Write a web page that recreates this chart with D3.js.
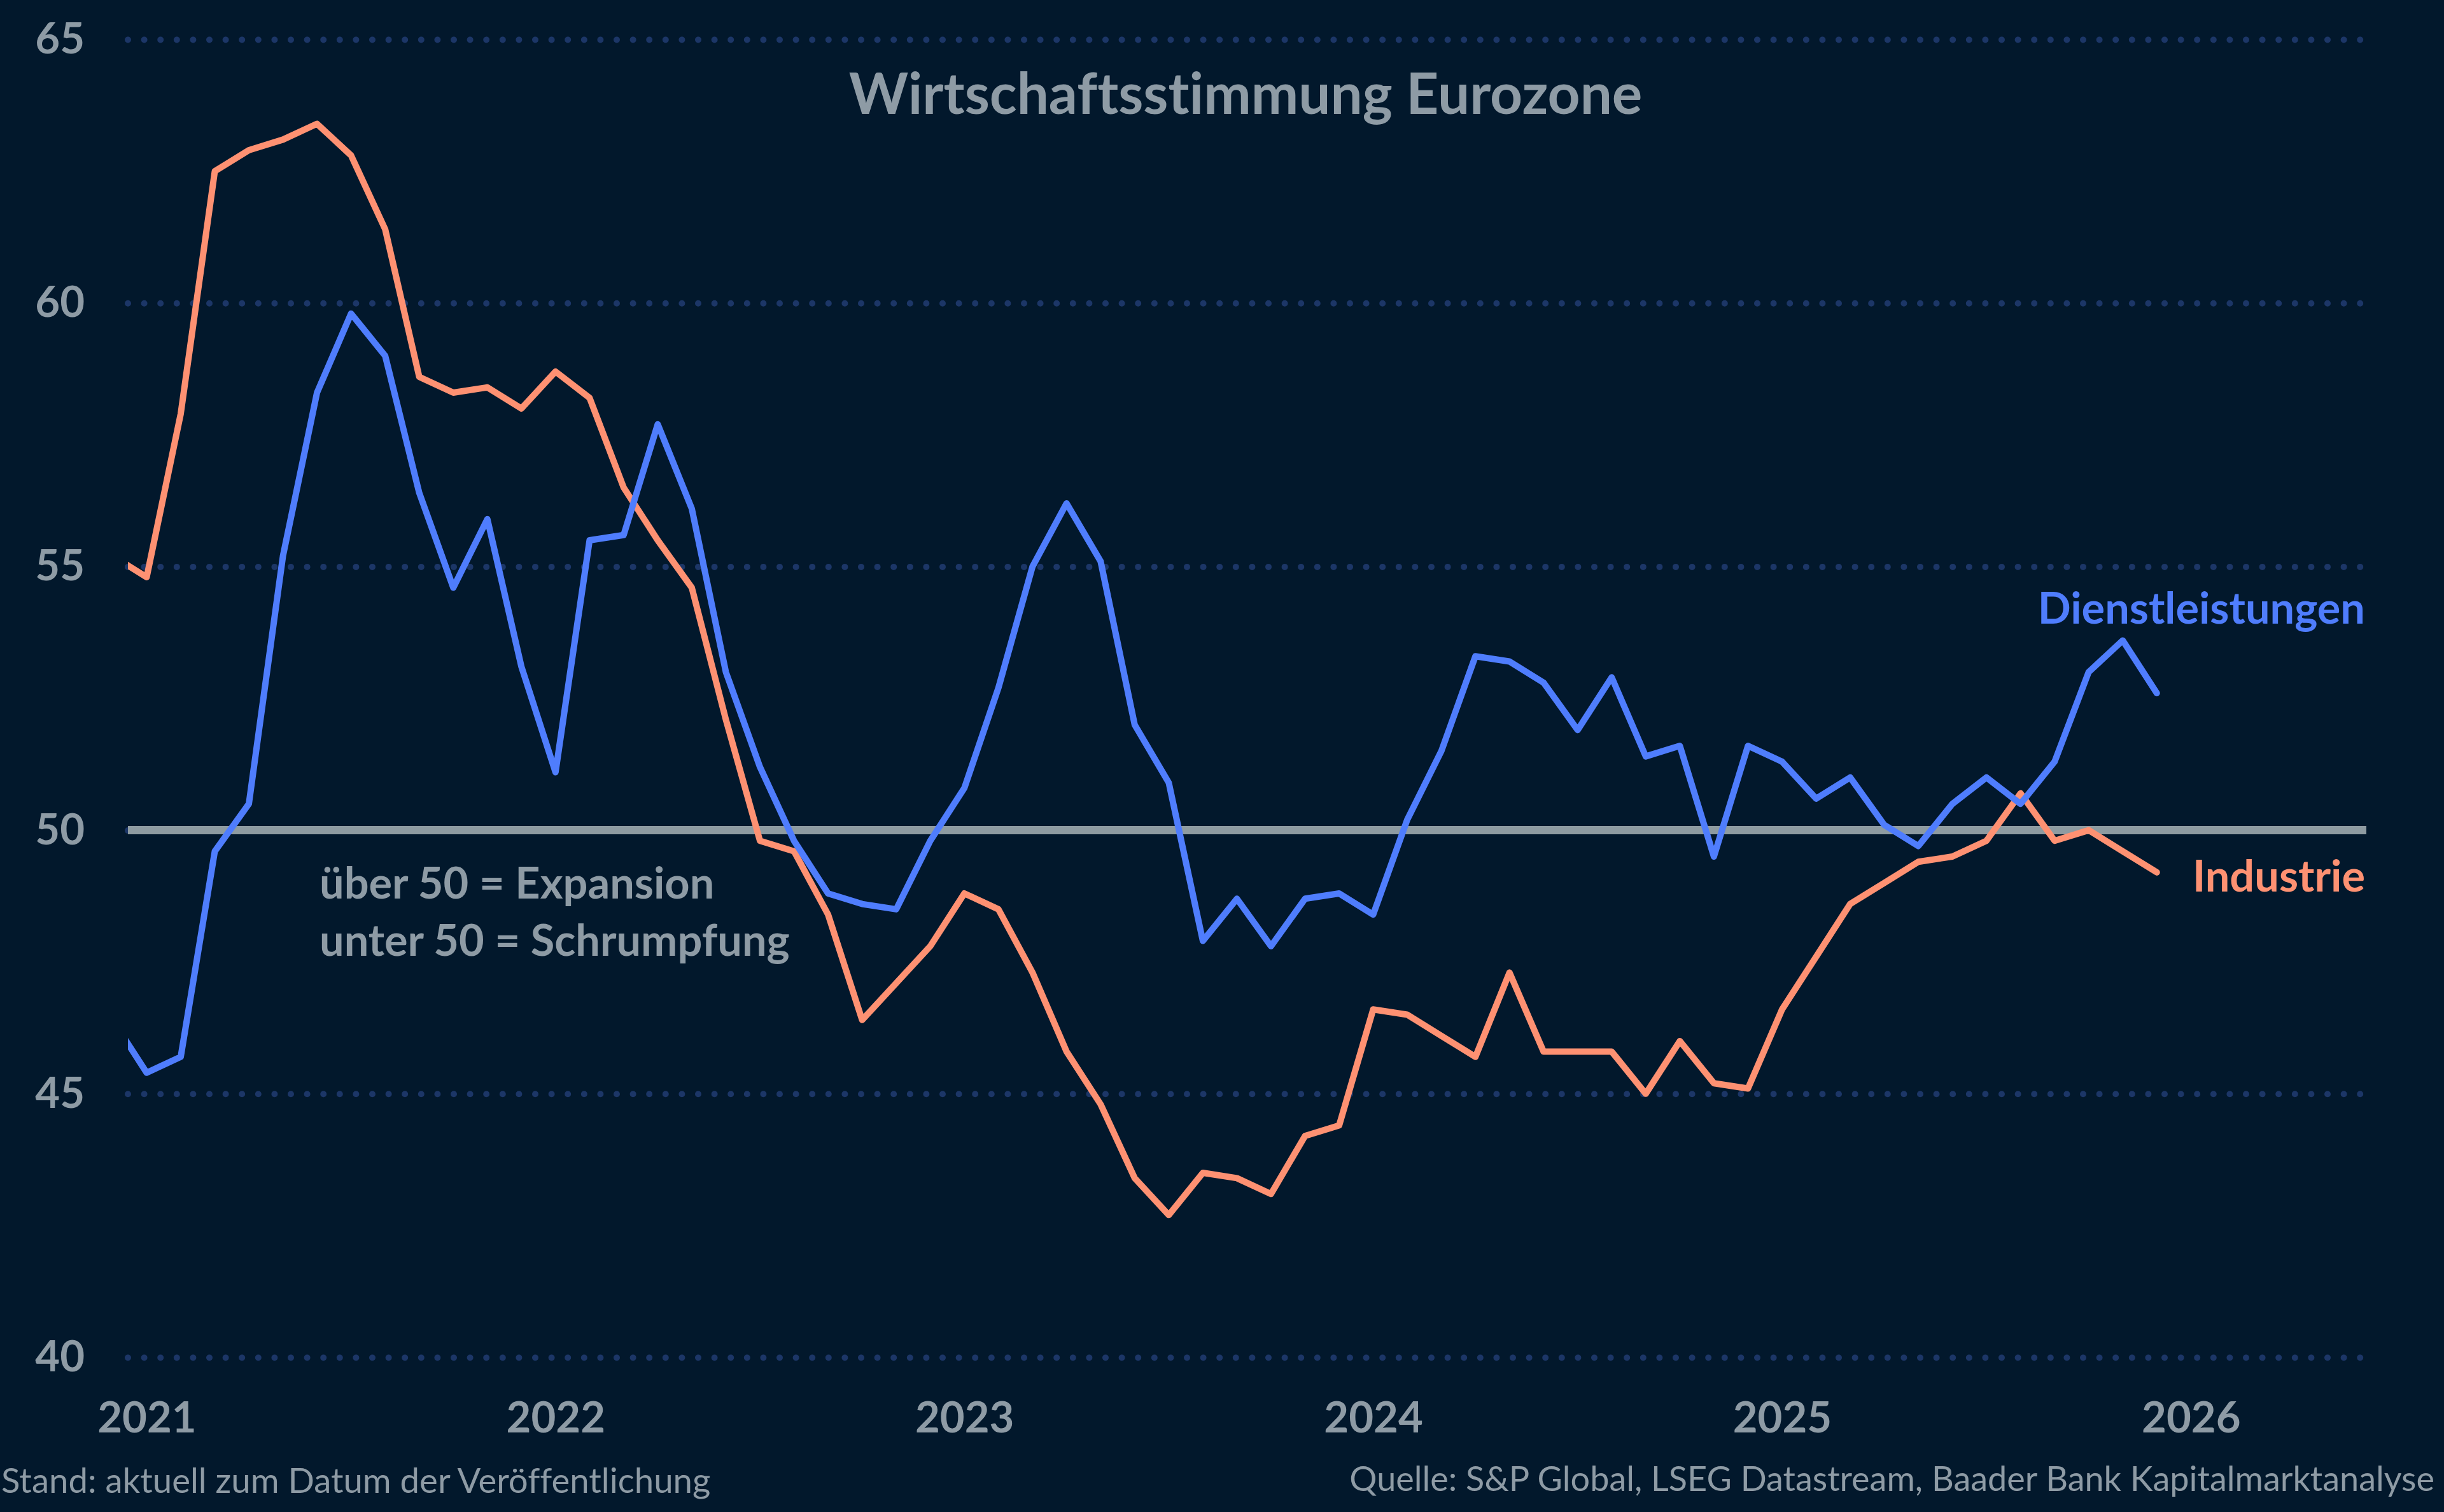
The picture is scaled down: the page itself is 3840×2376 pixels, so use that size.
<!DOCTYPE html>
<html>
<head>
<meta charset="utf-8">
<script src="https://cdn.jsdelivr.net/npm/d3@7"></script>
<style>
  html, body { margin: 0; padding: 0; background: #02182c; }
  svg { display: block; font-family: Lato, "Open Sans", sans-serif; font-variant-ligatures: none; }
</style>
</head>
<body>
<svg id="chart"></svg>
<script>
// Monatswerte Dez 2020 bis Dez 2025 (Einkaufsmanagerindizes Eurozone)
const months = [
  "2020-12",
  "2021-01","2021-02","2021-03","2021-04","2021-05","2021-06","2021-07","2021-08","2021-09","2021-10","2021-11","2021-12",
  "2022-01","2022-02","2022-03","2022-04","2022-05","2022-06","2022-07","2022-08","2022-09","2022-10","2022-11","2022-12",
  "2023-01","2023-02","2023-03","2023-04","2023-05","2023-06","2023-07","2023-08","2023-09","2023-10","2023-11","2023-12",
  "2024-01","2024-02","2024-03","2024-04","2024-05","2024-06","2024-07","2024-08","2024-09","2024-10","2024-11","2024-12",
  "2025-01","2025-02","2025-03","2025-04","2025-05","2025-06","2025-07","2025-08","2025-09","2025-10","2025-11","2025-12"
];

const dienstleistungen = [
  46.4,
  45.4, 45.7, 49.6, 50.5, 55.2, 58.3, 59.8, 59.0, 56.4, 54.6, 55.9, 53.1,
  51.1, 55.5, 55.6, 57.7, 56.1, 53.0, 51.2, 49.8, 48.8, 48.6, 48.5, 49.8,
  50.8, 52.7, 55.0, 56.2, 55.1, 52.0, 50.9, 47.9, 48.7, 47.8, 48.7, 48.8,
  48.4, 50.2, 51.5, 53.3, 53.2, 52.8, 51.9, 52.9, 51.4, 51.6, 49.5, 51.6,
  51.3, 50.6, 51.0, 50.1, 49.7, 50.5, 51.0, 50.5, 51.3, 53.0, 53.6, 52.6
];

const industrie = [
  55.2,
  54.8, 57.9, 62.5, 62.9, 63.1, 63.4, 62.8, 61.4, 58.6, 58.3, 58.4, 58.0,
  58.7, 58.2, 56.5, 55.5, 54.6, 52.1, 49.8, 49.6, 48.4, 46.4, 47.1, 47.8,
  48.8, 48.5, 47.3, 45.8, 44.8, 43.4, 42.7, 43.5, 43.4, 43.1, 44.2, 44.4,
  46.6, 46.5, 46.1, 45.7, 47.3, 45.8, 45.8, 45.8, 45.0, 46.0, 45.2, 45.1,
  46.6, 47.6, 48.6, 49.0, 49.4, 49.5, 49.8, 50.7, 49.8, 50.0, 49.6, 49.2
];

const yTicks = [40, 45, 50, 55, 60, 65];
const yearLabels = ["2021", "2022", "2023", "2024", "2025", "2026"];
const yearTickMonths = ["2021-01", "2022-01", "2023-01", "2024-01", "2025-01", "2026-01"];
const schwelle = 50;

const width = 3840, height = 2376;
const plot = {left: 201, right: 3718, top: 62, bottom: 2133};

const textGray = "#8e9ba5";
const blue = "#4f7dfd";
const orange = "#fe9172";

const svg = d3.select("#chart")
    .attr("width", width)
    .attr("height", height)
    .attr("viewBox", [0, 0, width, height]);

svg.append("rect")
    .attr("width", width)
    .attr("height", height)
    .attr("fill", "#02182c");

// month index relative to Dec 2020 (Dec 2020 = 0, Jan 2021 = 1)
const monthIndex = m => {
    const [yy, mm] = m.split("-").map(Number);
    return (yy - 2020) * 12 + (mm - 12);
};

let x = d3.scaleLinear()
    .domain([0.45, 66.15])
    .range([plot.left, plot.right]);

let y = d3.scaleLinear()
    .domain([40, 65])
    .range([plot.bottom, plot.top]);

svg.append("defs").append("clipPath")
    .attr("id", "plot-clip")
    .append("rect")
    .attr("x", plot.left)
    .attr("y", 0)
    .attr("width", plot.right - plot.left)
    .attr("height", height);

// y grid + labels
let yAxis = g => g
    .attr("transform", `translate(${plot.left},0)`)
    .call(d3.axisLeft(y).tickValues(yTicks).tickSize(-(plot.right - plot.left)).tickPadding(68))
    .call(g => g.select(".domain").remove())
    .call(g => g.selectAll(".tick line")
        .attr("stroke", "#1c3667")
        .attr("stroke-width", 10)
        .attr("stroke-linecap", "round")
        .attr("stroke-dasharray", "0 25.6"))
    .call(g => g.selectAll(".tick text")
        .attr("fill", textGray)
        .attr("font-family", "Lato")
        .attr("font-weight", 700)
        .attr("font-size", 67));

svg.append("g").call(yAxis);

// x axis (years)
let xAxis = g => g
    .attr("transform", `translate(0,${plot.bottom})`)
    .call(d3.axisBottom(x)
        .tickValues(yearTickMonths.map(monthIndex))
        .tickFormat((d, i) => yearLabels[i])
        .tickSize(0)
        .tickPadding(70))
    .call(g => g.select(".domain").remove())
    .call(g => g.selectAll(".tick text")
        .attr("fill", textGray)
        .attr("font-family", "Lato")
        .attr("font-weight", 700)
        .attr("font-size", 67));

svg.append("g").call(xAxis);

// 50er Linie
svg.append("line")
    .attr("x1", plot.left)
    .attr("x2", plot.right)
    .attr("y1", y(schwelle))
    .attr("y2", y(schwelle))
    .attr("stroke", "#8e9ba1")
    .attr("stroke-width", 13);

let line = values => d3.line()
    .x((d, i) => x(monthIndex(months[i])))
    .y(d => y(d))(values);

const lines = svg.append("g").attr("clip-path", "url(#plot-clip)");

lines.append("path")
    .attr("d", line(industrie))
    .attr("fill", "none")
    .attr("stroke", orange)
    .attr("stroke-width", 10)
    .attr("stroke-linejoin", "round")
    .attr("stroke-linecap", "round");

lines.append("path")
    .attr("d", line(dienstleistungen))
    .attr("fill", "none")
    .attr("stroke", blue)
    .attr("stroke-width", 10)
    .attr("stroke-linejoin", "round")
    .attr("stroke-linecap", "round");

// Texte
svg.append("text")
    .attr("x", 1957)
    .attr("y", 179)
    .attr("text-anchor", "middle")
    .attr("fill", textGray)
    .attr("font-weight", 700)
    .attr("font-size", 89)
    .text("Wirtschaftsstimmung Eurozone");

svg.append("text")
    .attr("x", 3716)
    .attr("y", 980)
    .attr("text-anchor", "end")
    .attr("fill", blue)
    .attr("font-weight", 700)
    .attr("font-size", 68.5)
    .text("Dienstleistungen");

svg.append("text")
    .attr("x", 3716)
    .attr("y", 1401)
    .attr("text-anchor", "end")
    .attr("fill", orange)
    .attr("font-weight", 700)
    .attr("font-size", 68.5)
    .text("Industrie");

const note = svg.append("text")
    .attr("fill", textGray)
    .attr("font-weight", 700)
    .attr("font-size", 68.5);
note.append("tspan").attr("x", 502).attr("y", 1412).text("über 50 = Expansion");
note.append("tspan").attr("x", 502).attr("y", 1502).text("unter 50 = Schrumpfung");

svg.append("text")
    .attr("x", 2)
    .attr("y", 2346)
    .attr("fill", textGray)
    .attr("font-size", 54.5)
    .text("Stand: aktuell zum Datum der Veröffentlichung");

svg.append("text")
    .attr("x", 3825)
    .attr("y", 2343)
    .attr("text-anchor", "end")
    .attr("fill", textGray)
    .attr("font-size", 54)
    .text("Quelle: S&P Global, LSEG Datastream, Baader Bank Kapitalmarktanalyse");
</script>
</body>
</html>
